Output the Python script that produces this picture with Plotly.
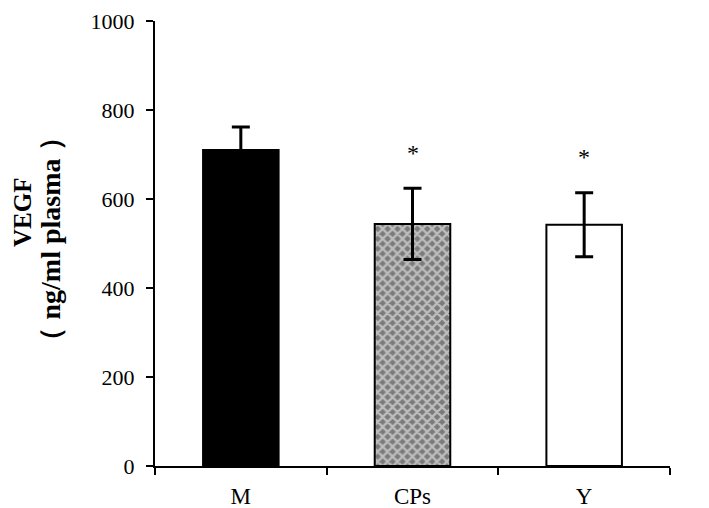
import plotly.graph_objects as go

groups = ["M", "CPs", "Y"]
vegf = [710, 544, 542]
sd = [52, 80, 72]
signif = ["", "*", "*"]

fills = ["black", "#7a7a7a", "white"]
pattern = ["", "x", ""]

fig = go.Figure()
fig.add_trace(go.Bar(
    x=groups,
    y=vegf,
    width=0.44,
    marker=dict(
        color=fills,
        line=dict(color="black", width=2),
        pattern=dict(shape=pattern, fgcolor="black",
                     size=7, solidity=0.55, fillmode="overlay"),
    ),
    error_y=dict(type="data", array=sd, color="black", thickness=3, width=9),
    showlegend=False,
))

# significance stars above the error bars
for g, v, e, s in zip(groups, vegf, sd, signif):
    if s:
        fig.add_annotation(x=g, y=v + e + 80, text=s, showarrow=False,
                           font=dict(family="Liberation Serif", size=24, color="black"),
                           yanchor="middle")

# y-axis title, two lines
fig.add_annotation(xref="paper", yref="paper", x=-0.256, y=0.569, text="<b>VEGF</b>",
                   textangle=-90, showarrow=False, xanchor="center", yanchor="middle",
                   font=dict(family="Liberation Serif", size=25, color="black"))
fig.add_annotation(xref="paper", yref="paper", x=-0.203, y=0.51, text="<b>（ ng/ml plasma ）</b>",
                   textangle=-90, showarrow=False, xanchor="center", yanchor="middle",
                   font=dict(family="Liberation Serif", size=28, color="black"))

# page body has an 8px margin, so the figure is a bit smaller than the window
fig.update_layout(
    width=701, height=500,
    margin=dict(l=147, r=39, t=13, b=42),
    plot_bgcolor="white", paper_bgcolor="white",
    font=dict(family="Liberation Serif", size=22, color="black"),
)
fig.update_xaxes(
    showline=True, linecolor="black", linewidth=2,
    ticks="outside", tickson="boundaries", ticklen=7, tickwidth=2, tickcolor="black",
    tickfont=dict(size=23, family="Liberation Serif"), ticklabelstandoff=8,
    showgrid=False, automargin=False,
)
fig.update_yaxes(
    range=[0, 1000], tickvals=[0, 200, 400, 600, 800, 1000],
    showline=True, linecolor="black", linewidth=2,
    ticks="outside", ticklen=7, tickwidth=2, tickcolor="black",
    tickfont=dict(size=22, family="Liberation Serif"), ticklabeloverflow="allow",
    ticklabelstandoff=7,
    showgrid=False, zeroline=False, automargin=False,
)

fig.write_html("out.html")
